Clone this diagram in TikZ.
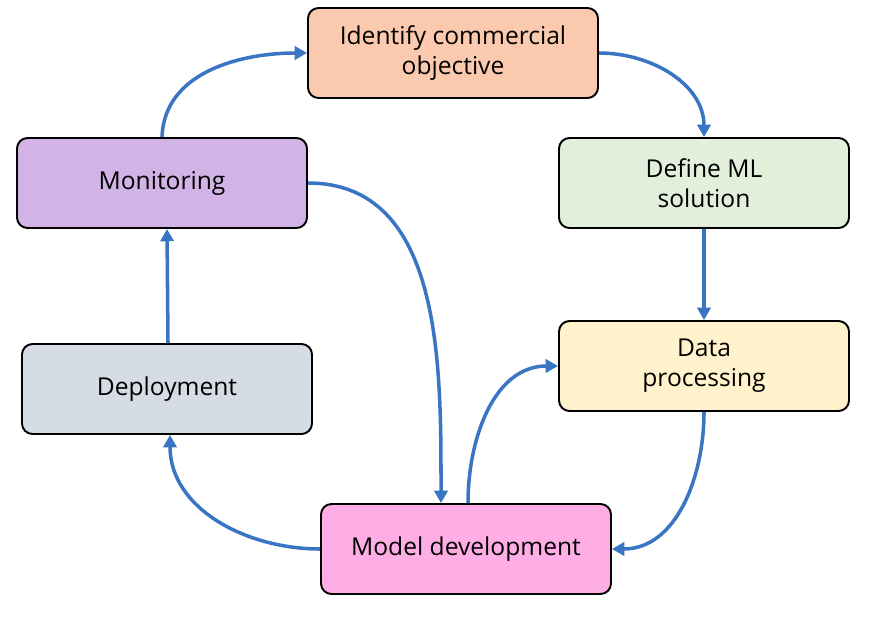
\documentclass[tikz,border=0pt]{standalone}
\usepackage{fontspec}
\setmainfont{Open Sans}
\usepackage{tikz}
\usetikzlibrary{arrows.meta, positioning, calc}

\definecolor{peach}{HTML}{FBCAAE}
\definecolor{lavender}{HTML}{D1B3E6}
\definecolor{mintgreen}{HTML}{E2EFDA}
\definecolor{cream}{HTML}{FFF2CC}
\definecolor{slategrey}{HTML}{D5DCE4}
\definecolor{pinkbox}{HTML}{FFADE5}
\definecolor{flowblue}{HTML}{3A75C4}

\begin{document}
\begin{tikzpicture}[
    stagebox/.style={draw=black, line width=1.1pt, rounded corners=6pt,
        minimum width=5.8cm, minimum height=1.8cm, align=center,
        font=\fontsize{14}{17}\selectfont},
    flow/.style={draw=flowblue, line width=2pt, -{Triangle[length=7pt,width=7.5pt]}}
]
    % Canvas
    \useasboundingbox (0,0) rectangle (17.64,-12.44);

    % Stages
    \node[stagebox, fill=peach] (ident) at (9.06,-1.06) {Identify commercial\\objective};
    \node[stagebox, fill=mintgreen] (defml) at (14.08,-3.66) {Define ML\\solution};
    \node[stagebox, fill=cream] (datap) at (14.08,-7.32) {Data\\processing};
    \node[stagebox, fill=pinkbox] (model) at (9.32,-10.98) {Model development};
    \node[stagebox, fill=slategrey] (deploy) at (3.34,-7.78) {Deployment};
    \node[stagebox, fill=lavender] (monit) at (3.24,-3.66) {Monitoring};

    % Cycle
    \draw[flow] (monit.north) to[out=88,in=180] (ident.west);
    \draw[flow] (ident.east) to[out=0,in=90] (defml.north);
    \draw[flow] (defml.south) -- (datap.north);
    \draw[flow] (datap.south) to[out=-90,in=0] (model.east);
    \draw[flow] ($(model.north)+(0.04,0)$) to[out=90,in=180] (datap.west);
    \draw[flow] (monit.east) to[out=0,in=90] ($(model.north)+(-0.5,0)$);
    \draw[flow] (model.west) to[out=180,in=-90] ($(deploy.south)+(0.06,0)$);
    \draw[flow] ($(deploy.north)+(0.02,0)$) -- ($(monit.south)+(0.1,0)$);
\end{tikzpicture}
\end{document}
